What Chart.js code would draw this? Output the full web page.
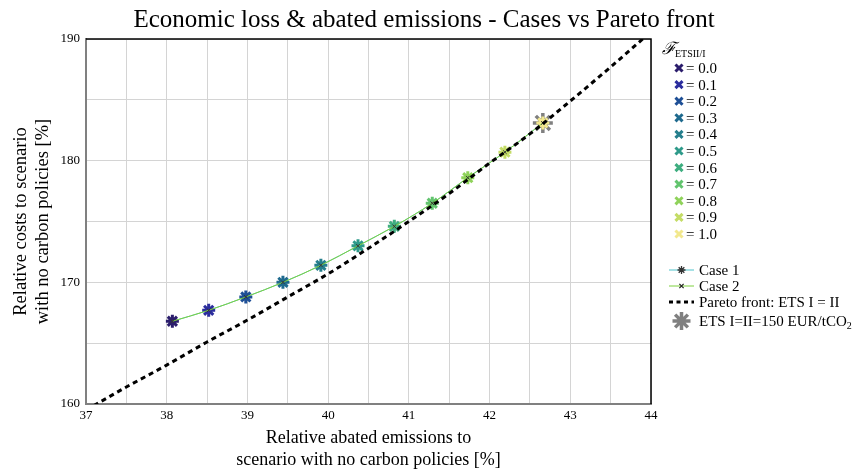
<!DOCTYPE html>
<html>
<head>
<meta charset="utf-8">
<script src="https://cdn.jsdelivr.net/npm/chart.js@4.4.1/dist/chart.umd.min.js"></script>
<style>
  html, body { margin: 0; padding: 0; background: #fff; }
  #wrap { width: 858px; height: 472px; }
</style>
</head>
<body>
<div id="wrap"><canvas id="grafico" width="858" height="472"></canvas></div>
<script>
"use strict";

/* ── DADOS ─────────────────────────────── */
const F_VALUES = ["0.0", "0.1", "0.2", "0.3", "0.4", "0.5", "0.6", "0.7", "0.8", "0.9", "1.0"];
const F_COLORS = ["#2b1d6c", "#2b2d9e", "#1e4f96", "#1f6a8e", "#267f8d", "#2e9a8a",
                  "#3fae80", "#62c46e", "#8fd25a", "#c4dc66", "#f2e88e"];

const CASE1_X = [38.07, 38.52, 38.98, 39.44, 39.91, 40.37, 40.82, 41.29, 41.73, 42.19, 42.66];
const CASE1_Y = [166.8, 167.7, 168.8, 170.0, 171.4, 173.0, 174.6, 176.5, 178.6, 180.7, 183.1];
const CASE2_X = [38.07, 38.52, 38.98, 39.44, 39.91, 40.37, 40.82, 41.29, 41.73, 42.19, 42.66];
const CASE2_Y = [166.8, 167.7, 168.8, 170.0, 171.4, 173.0, 174.6, 176.5, 178.6, 180.7, 183.1];

const PARETO_X = [37.0, 37.5, 38.0, 38.5, 39.0, 39.5, 40.0, 40.5, 41.0, 41.5, 42.0, 42.5, 43.0, 43.5, 44.0];
const PARETO_Y = [159.5, 161.4, 163.2, 165.1, 166.9, 168.8, 170.7, 172.8, 175.0, 177.3, 179.8, 182.2, 184.9, 187.7, 190.6];

const ETS150_X = [42.66];
const ETS150_Y = [183.1];

const X_MIN = 37, X_MAX = 44, X_STEP = 0.5;
const Y_MIN = 160, Y_MAX = 190, Y_STEP = 5;

const TITULO   = "Economic loss & abated emissions - Cases vs Pareto front";
const TITULO_X = ["Relative abated emissions to", "scenario with no carbon policies [%]"];
const TITULO_Y = ["Relative costs to scenario", "with no carbon policies [%]"];
const LEGENDA  = ["Case 1", "Case 2", "Pareto front: ETS I = II", "ETS I=II=150 EUR/tCO"];

const SERIF = '"Liberation Serif", "DejaVu Serif", serif';

const pares = (xs, ys) => xs.map((x, i) => ({ x, y: ys[i] }));

/* ── PLUGIN: TÍTULO + MOLDURA ───────────── */
const moldura = {
  id: "moldura",
  afterDraw(chart) {
    const { ctx, chartArea: a } = chart;
    ctx.save();
    ctx.strokeStyle = "#000";
    ctx.lineWidth = 1.5;
    ctx.beginPath();
    ctx.moveTo(a.left, a.top);
    ctx.lineTo(a.right, a.top);
    ctx.lineTo(a.right, a.bottom);
    ctx.stroke();

    ctx.fillStyle = "#000";
    ctx.font = "25px " + SERIF;
    ctx.textAlign = "center";
    ctx.textBaseline = "alphabetic";
    ctx.fillText(TITULO, 424, 27);
    ctx.restore();
  }
};

/* ── PLUGIN: LEGENDA LATERAL ────────────── */
const legendaLateral = {
  id: "legendaLateral",
  afterDraw(chart) {
    const ctx = chart.ctx;
    const draw = Chart.helpers.drawPoint;
    ctx.save();
    ctx.fillStyle = "#000";
    ctx.textBaseline = "alphabetic";
    ctx.textAlign = "left";

    ctx.font = "italic 17px " + SERIF;
    ctx.fillText("ℱ", 662, 54);
    ctx.font = "10px " + SERIF;
    ctx.fillText("ETSII/I", 675, 57);

    ctx.textBaseline = "middle";
    F_VALUES.forEach((v, i) => {
      const y = 68 + i * 16.6;
      ctx.strokeStyle = F_COLORS[i];
      ctx.lineWidth = 3;
      draw(ctx, { pointStyle: "crossRot", radius: 5, borderWidth: 3, rotation: 0 }, 679, y);
      ctx.font = "15px " + SERIF;
      ctx.fillStyle = "#000";
      ctx.fillText("= " + v, 686, y + 1);
    });

    // Case 1
    let y = 270;
    ctx.strokeStyle = "#4fc3cb"; ctx.lineWidth = 1;
    ctx.beginPath(); ctx.moveTo(669, y); ctx.lineTo(694, y); ctx.stroke();
    ctx.strokeStyle = "#333"; ctx.lineWidth = 1.3;
    draw(ctx, { pointStyle: "star", radius: 4, borderWidth: 1.3, rotation: 0 }, 681.5, y);
    ctx.fillText(LEGENDA[0], 699, y + 1);

    // Case 2
    y = 286;
    ctx.strokeStyle = "#7ed13f"; ctx.lineWidth = 1;
    ctx.beginPath(); ctx.moveTo(669, y); ctx.lineTo(694, y); ctx.stroke();
    ctx.strokeStyle = "#222"; ctx.lineWidth = 1.2;
    draw(ctx, { pointStyle: "crossRot", radius: 3, borderWidth: 1.2, rotation: 0 }, 681.5, y);
    ctx.fillText(LEGENDA[1], 699, y + 1);

    // Pareto
    y = 302;
    ctx.strokeStyle = "#000"; ctx.lineWidth = 3;
    ctx.setLineDash([4, 3.5]);
    ctx.beginPath(); ctx.moveTo(669, y); ctx.lineTo(694, y); ctx.stroke();
    ctx.setLineDash([]);
    ctx.fillText(LEGENDA[2], 699, y + 1);

    // ETS 150
    y = 321;
    ctx.strokeStyle = "#808080"; ctx.lineWidth = 3.5;
    draw(ctx, { pointStyle: "star", radius: 9, borderWidth: 3.5, rotation: 0 }, 681.5, y);
    ctx.fillText(LEGENDA[3], 699, y + 1);
    const w = ctx.measureText(LEGENDA[3]).width;
    ctx.font = "10px " + SERIF;
    ctx.fillText("2", 699 + w, y + 5);

    ctx.restore();
  }
};

/* ── GRÁFICO ───────────────────────────── */
new Chart(document.getElementById("grafico").getContext("2d"), {
  type: "scatter",
  data: {
    datasets: [
      {
        label: "Case 2",
        data: pares(CASE2_X, CASE2_Y),
        showLine: true,
        borderColor: "#7ed13f",
        borderWidth: 1,
        pointStyle: "crossRot",
        pointRadius: 2.5,
        pointBorderWidth: 1,
        pointBorderColor: "#333",
        pointBackgroundColor: "transparent",
        cubicInterpolationMode: "monotone",
        order: 1
      },
      {
        label: "Case 1",
        data: pares(CASE1_X, CASE1_Y),
        showLine: true,
        borderColor: "#4fc3cb",
        borderWidth: 1,
        pointStyle: "star",
        pointRadius: 6.5,
        pointBorderWidth: 3,
        pointBorderColor: F_COLORS,
        pointBackgroundColor: "transparent",
        cubicInterpolationMode: "monotone",
        order: 2
      },
      {
        label: "ETS I=II=150 EUR/tCO2",
        data: pares(ETS150_X, ETS150_Y),
        pointStyle: "star",
        pointRadius: 10,
        pointBorderWidth: 3.5,
        pointBorderColor: "#808080",
        pointBackgroundColor: "transparent",
        order: 3
      },
      {
        label: "Pareto front: ETS I = II",
        data: pares(PARETO_X, PARETO_Y),
        showLine: true,
        borderColor: "#000",
        borderWidth: 3,
        borderDash: [5, 4],
        pointRadius: 0,
        cubicInterpolationMode: "monotone",
        order: 0
      }
    ]
  },
  options: {
    responsive: false,
    animation: false,
    layout: { padding: { top: 39, left: 10, right: 207, bottom: 0 } },
    plugins: {
      legend: { display: false },
      tooltip: { enabled: false },
      title: { display: false }
    },
    scales: {
      x: {
        type: "linear",
        min: X_MIN, max: X_MAX,
        afterFit: s => { s.height = 68; },
        border: { color: "#808080", width: 2 },
        grid: { color: "#d4d4d4", lineWidth: 1, drawTicks: false },
        ticks: {
          stepSize: X_STEP,
          color: "#000",
          padding: 4,
          maxRotation: 0,
          autoSkip: false,
          font: { family: SERIF, size: 13 },
          callback: v => (Number.isInteger(v) ? String(v) : "")
        },
        title: {
          display: true,
          text: TITULO_X,
          color: "#000",
          font: { family: SERIF, size: 18, lineHeight: 1.25 },
          padding: { top: 0, bottom: 0 }
        }
      },
      y: {
        type: "linear",
        min: Y_MIN, max: Y_MAX,
        afterFit: s => { s.width = 76; },
        border: { color: "#808080", width: 2 },
        grid: { color: "#d4d4d4", lineWidth: 1, drawTicks: false },
        ticks: {
          stepSize: Y_STEP,
          color: "#000",
          padding: 6,
          autoSkip: false,
          font: { family: SERIF, size: 13 },
          callback: v => (v % 10 === 0 ? String(v) : "")
        },
        title: {
          display: true,
          text: TITULO_Y,
          color: "#000",
          font: { family: SERIF, size: 18.5, lineHeight: 1.2 },
          padding: { top: 0, bottom: 0 }
        }
      }
    }
  },
  plugins: [moldura, legendaLateral]
});
</script>
</body>
</html>
